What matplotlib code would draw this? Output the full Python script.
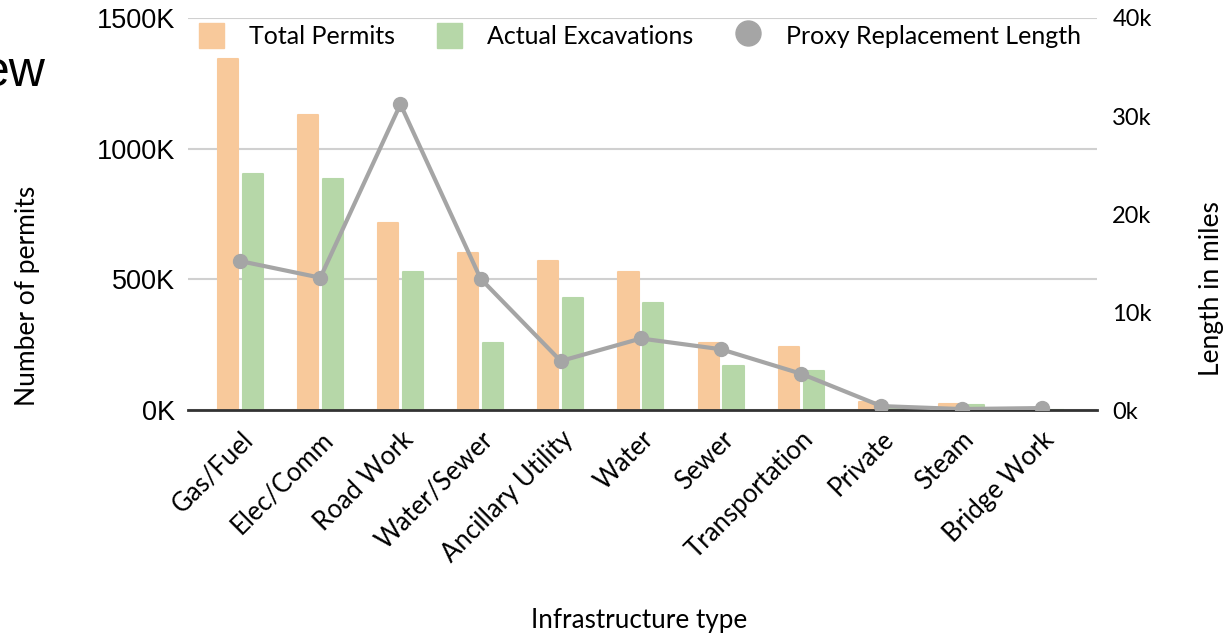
import matplotlib.pyplot as plt
import matplotlib.transforms as mtransforms
import numpy as np
from matplotlib.patches import Patch
from matplotlib.lines import Line2D

# Daten
kategorien = ["Gas/Fuel", "Elec/Comm", "Road Work", "Water/Sewer", "Ancillary Utility",
              "Water", "Sewer", "Transportation", "Private", "Steam", "Bridge Work"]
total_permits = [1343, 1129, 716, 601, 570, 528, 256, 241, 30, 23, 3]          # in K
actual_excavations = [903, 884, 528, 256, 429, 410, 168, 149, 8, 18, 2]         # in K
proxy_length = [15.2, 13.5, 31.2, 13.4, 5.0, 7.3, 6.2, 3.7, 0.4, 0.1, 0.2]      # in k miles

c_orange = "#f8c99b"
c_green = "#b6d7a8"
c_grey = "#a5a5a5"
calibri_like = ["Lato", "DejaVu Sans"]

fig = plt.figure(figsize=(12.25, 6.36), dpi=100)
ax = fig.add_axes([0.1535, 0.3553, 0.742, 0.6164])
ax2 = ax.twinx()

x = np.arange(len(kategorien))
breite = 0.25
ax.bar(x - 0.155, total_permits, breite, color=c_orange, edgecolor=c_orange,
       linewidth=1.5, joinstyle="round", zorder=2)
ax.bar(x + 0.155, actual_excavations, breite, color=c_green, edgecolor=c_green,
       linewidth=1.5, joinstyle="round", zorder=2)

ax2.plot(x, proxy_length, color=c_grey, linewidth=3, marker="o", markersize=10, zorder=3)

# Achsen
ax.set_xlim(-0.65, 10.69)
ax.set_ylim(0, 1500)
ax2.set_ylim(0, 40)
ax.set_yticks([0, 500, 1000, 1500])
ax.set_yticklabels(["0K", "500K", "1000K", "1500K"], fontsize=19.5, family="Liberation Sans")
ax2.set_yticks([0, 10, 20, 30, 40])
ax2.set_yticklabels(["0k", "10k", "20k", "30k", "40k"], fontsize=17, family=calibri_like)
ax.yaxis.grid(True, color="#d0d0d0", linewidth=1.5, zorder=0)
ax.set_axisbelow(True)

ax.set_xticks(x)
ax.set_xticklabels(kategorien, rotation=45, ha="right", rotation_mode="anchor",
                   fontsize=18.5, family=calibri_like)
verschiebung = mtransforms.ScaledTranslation(10 / 100, 0, fig.dpi_scale_trans)
for lbl in ax.get_xticklabels():
    lbl.set_transform(lbl.get_transform() + verschiebung)

for a in (ax, ax2):
    for s in a.spines.values():
        s.set_visible(False)
    a.tick_params(length=0)
ax.spines["bottom"].set_visible(True)
ax.spines["bottom"].set_color("#333333")
ax.spines["bottom"].set_linewidth(2)
ax.tick_params(axis="y", pad=9)
ax.tick_params(axis="x", pad=12)
ax2.tick_params(axis="y", pad=11)

# Achsentitel
fig.text(28 / 1225, 1 - 296 / 636, "Number of permits", fontsize=19, family=calibri_like,
         rotation=90, ha="center", va="center")
fig.text(1211 / 1225, 1 - 289 / 636, "Length in miles", fontsize=19, family=calibri_like,
         rotation=90, ha="center", va="center")
fig.text(0.522, 0.012, "Infrastructure type", fontsize=18.8, family=calibri_like, ha="center")

# Legende
handles = [Patch(facecolor=c_orange, edgecolor=c_orange),
           Patch(facecolor=c_green, edgecolor=c_green),
           Line2D([], [], color=c_grey, marker="o", linestyle="none", markersize=18)]
ax.legend(handles, ["Total Permits", "Actual Excavations", "Proxy Replacement Length"],
          loc="upper center", bbox_to_anchor=(0.497, 1.045), ncol=3, frameon=False,
          prop={"family": calibri_like, "size": 18}, handlelength=1.0, handleheight=1.2,
          handletextpad=1.0, columnspacing=1.7)

# Rest des Folientitels
fig.text(0.037, 0.865, "ew", fontsize=36, family="Liberation Sans", ha="right", va="baseline")

fig.savefig("out.png", dpi=100)
